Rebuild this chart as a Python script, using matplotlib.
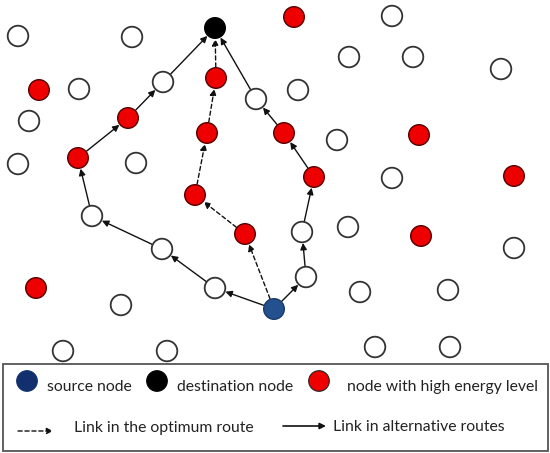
import matplotlib
matplotlib.use("Agg")
import matplotlib.pyplot as plt
from matplotlib.patches import Circle, Rectangle

# ---- data (pixel coordinates, y downwards) ----
white_x = [18, 132, 79, 163, 256, 29, 18, 136, 392, 349, 413, 501, 298, 337, 392,
           92, 162, 215, 121, 63, 167, 302, 348, 514, 306, 360, 448, 375, 450]
white_y = [36, 37, 89, 82, 99, 121, 164, 163, 16, 57, 57, 69, 90, 140, 178,
           216, 249, 288, 305, 351, 351, 232, 227, 248, 277, 292, 290, 347, 347]
red_x = [39, 216, 128, 207, 78, 294, 284, 419, 314, 514, 195, 245, 36, 421]
red_y = [90, 78, 118, 133, 158, 17, 133, 135, 177, 176, 195, 234, 288, 236]
source_xy = (274, 309)
dest_xy = (215, 28)

# routes as sequences of (kind, index)
route_left = [("S", 0), ("W", 17), ("W", 16), ("W", 15), ("R", 4), ("R", 2), ("W", 3), ("D", 0)]
route_right = [("S", 0), ("W", 24), ("W", 21), ("R", 8), ("R", 6), ("W", 4), ("D", 0)]
route_opt = [("S", 0), ("R", 11), ("R", 10), ("R", 3), ("R", 1), ("D", 0)]

legend_nodes = ["source node", "destination node", "node with high energy level"]
legend_links = ["Link in the optimum route", "Link in alternative routes"]

# ---- drawing ----
W, H = 550, 453
fig = plt.figure(figsize=(W / 100, H / 100), dpi=100)
ax = fig.add_axes([0, 0, 1, 1])
ax.set_xlim(0, W)
ax.set_ylim(H, 0)
ax.axis("off")

R = 10.3
EDGE = "#333333"
RED = "#ee0000"
BLUE = "#23508f"
LBLUE = "#12306e"


def pos(node):
    k, i = node
    if k == "S":
        return source_xy
    if k == "D":
        return dest_xy
    if k == "W":
        return (white_x[i], white_y[i])
    return (red_x[i], red_y[i])


for x, y in zip(white_x, white_y):
    ax.add_patch(Circle((x, y), R, facecolor="white", edgecolor=EDGE, lw=1.3, zorder=3))
for x, y in zip(red_x, red_y):
    ax.add_patch(Circle((x, y), R, facecolor=RED, edgecolor="#550000", lw=1.0, zorder=3))
ax.add_patch(Circle(source_xy, R, facecolor=BLUE, edgecolor="#1a3a6a", lw=1.0, zorder=3))
ax.add_patch(Circle(dest_xy, R, facecolor="black", edgecolor="black", lw=1.0, zorder=3))

shrink = R * 0.72 + 0.5


def draw_route(route, ls):
    for a, b in zip(route[:-1], route[1:]):
        ax.annotate("", xy=pos(b), xytext=pos(a),
                    arrowprops=dict(arrowstyle="-|>", color="#111111", lw=1.0,
                                    linestyle=ls, mutation_scale=9.5,
                                    shrinkA=shrink, shrinkB=shrink),
                    zorder=2)


draw_route(route_left, "-")
draw_route(route_right, "-")
draw_route(route_opt, (0, (3, 2)))

# ---- legend ----
ax.add_patch(Rectangle((3, 364), 545, 87, facecolor="white", edgecolor="#555555", lw=1.3, zorder=4))
font = dict(family="Lato", fontsize=11.3, color="#222222", va="center", ha="left", zorder=5)
dot_x = [27, 157, 319]
dot_c = [LBLUE, "black", RED]
txt_x = [47, 177, 347]
for dx, dc, tx, lab in zip(dot_x, dot_c, txt_x, legend_nodes):
    ax.add_patch(Circle((dx, 381), R, facecolor=dc, edgecolor="#222222" if dc == RED else dc,
                        lw=0.8, zorder=5))
    ax.text(tx, 387, lab, **font)

ax.annotate("", xy=(53, 431), xytext=(18, 431),
            arrowprops=dict(arrowstyle="-|>", color="#111111", lw=1.0, linestyle=(0, (3, 2)),
                            mutation_scale=9, shrinkA=0, shrinkB=0), zorder=5)
ax.text(74, 428, legend_links[0], **font)
ax.annotate("", xy=(326, 426), xytext=(283, 426),
            arrowprops=dict(arrowstyle="-|>", color="#111111", lw=1.2,
                            mutation_scale=9, shrinkA=0, shrinkB=0), zorder=5)
ax.text(333, 427, legend_links[1], **font)

fig.savefig("out.png", dpi=100)
